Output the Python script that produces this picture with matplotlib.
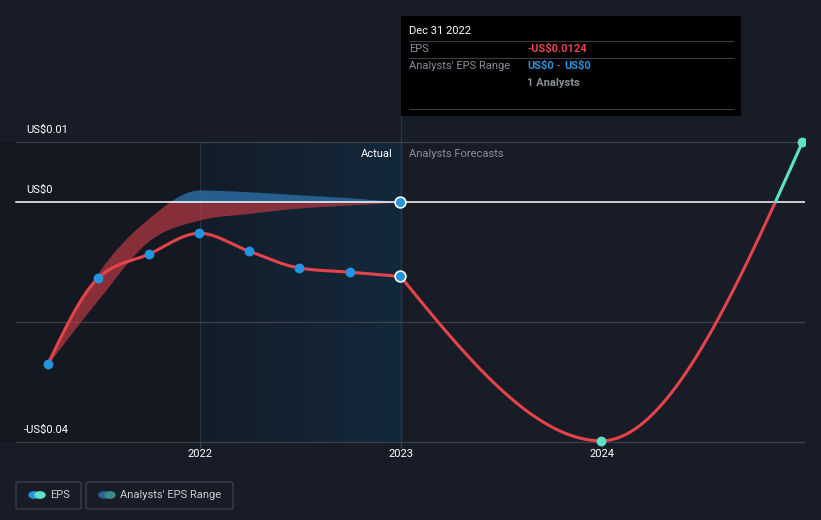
import numpy as np
import pandas as pd
import matplotlib
matplotlib.use("Agg")
import matplotlib.pyplot as plt
from matplotlib.patches import Rectangle, FancyBboxPatch
from matplotlib.colors import LinearSegmentedColormap

plt.rcParams['font.family'] = ['Roboto', 'DejaVu Sans']

# --- data ---
actual_dates = ['2021-03-31', '2021-06-30', '2021-09-30', '2021-12-31',
                '2022-03-31', '2022-06-30', '2022-09-30', '2022-12-31']
actual_eps = [-0.0270, -0.0127, -0.0087, -0.0052, -0.0082, -0.0110, -0.0117, -0.0124]

forecast_dates = ['2022-12-31', '2023-12-31', '2024-12-31']
forecast_eps = [-0.0124, -0.0398, 0.0100]

range_dates = actual_dates
range_high = [-0.0270, -0.0118, -0.0027, 0.0020, 0.0017, 0.0012, 0.0007, 0.0]
range_low = [-0.0270, -0.0163, -0.0065, -0.0030, -0.0019, -0.0010, -0.0005, 0.0]

y_ticks = [0.01, 0.0, -0.04]
y_tick_labels = ['US$0.01', 'US$0', '-US$0.04']
x_ticks = [2022, 2023, 2024]

BG = '#171c26'
RED = '#e5434a'
BLUE = '#2394df'
TEAL = '#5de2c6'
GRID = '#3b4049'
W, H = 821, 520


def dec_year(s):
    t = pd.Timestamp(s)
    start = pd.Timestamp(year=t.year, month=1, day=1)
    end = pd.Timestamp(year=t.year + 1, month=1, day=1)
    return t.year + (t - start) / (end - start)


def monotone(x, y, n=60):
    # monotone cubic (like d3 curveMonotoneX)
    x = np.asarray(x, float)
    y = np.asarray(y, float)
    h = np.diff(x)
    d = np.diff(y) / h
    m = np.zeros_like(y)
    for i in range(1, len(y) - 1):
        s0, s1 = d[i - 1], d[i]
        p = (s0 * h[i] + s1 * h[i - 1]) / (h[i - 1] + h[i])
        m[i] = (np.sign(s0) + np.sign(s1)) * min(abs(s0), abs(s1), 0.5 * abs(p))
    m[0] = (3 * d[0] - m[1]) / 2 if len(y) > 2 else d[0]
    m[-1] = (3 * d[-1] - m[-2]) / 2 if len(y) > 2 else d[-1]
    xs, ys = [], []
    for i in range(len(h)):
        t = np.linspace(0, 1, n, endpoint=(i == len(h) - 1))
        h00 = 2 * t**3 - 3 * t**2 + 1
        h10 = t**3 - 2 * t**2 + t
        h01 = -2 * t**3 + 3 * t**2
        h11 = t**3 - t**2
        xs.append(x[i] + t * h[i])
        ys.append(h00 * y[i] + h10 * h[i] * m[i] + h01 * y[i + 1] + h11 * h[i] * m[i + 1])
    return np.concatenate(xs), np.concatenate(ys)


ax_x = [dec_year(s) for s in actual_dates]
fx = [dec_year(s) for s in forecast_dates]
rx = [dec_year(s) for s in range_dates]


def px(x, y):
    return x / W, 1 - y / H


def xd(xp):
    return 2022 + (xp - 200) / 201


def yd(yp):
    return (202 - yp) / 6000


fig = plt.figure(figsize=(W / 100, H / 100), dpi=100, facecolor=BG)
# axes stop at the right end of the gridlines so the last point is clipped there
ax = fig.add_axes([0, 0, 805 / W, 1])
ax.set_facecolor(BG)
XL = (xd(0), xd(805))
YL = (yd(H), yd(0))
ax.axis('off')

# left darker region and shaded past-year region (between the 0.01 and -0.04 lines)
ax.fill_between([xd(0), 2022], 0.01, -0.04, color='#131821', zorder=0, lw=0)
grad = LinearSegmentedColormap.from_list('g', ['#141d29', '#13283c'])
ax.imshow(np.linspace(0, 1, 100)[None, :], cmap=grad, aspect='auto',
          extent=[2022, 2023, -0.04, 0.01], zorder=0.5)
ax.set_xlim(*XL)
ax.set_ylim(*YL)
ax.plot([2022, 2022], [-0.04, 0.01], color='#1e3448', lw=0.8, zorder=1)
ax.plot([2023, 2023], [-0.04, yd(116)], color='#23384c', lw=1.0, zorder=1)

# gridlines
for v in [0.01, -0.02, -0.04]:
    ax.plot([xd(16), xd(805)], [v, v], color=GRID, lw=0.9, zorder=1)
ax.plot([xd(16), xd(805)], [0, 0], color='white', lw=1.1, zorder=3)
for xt in x_ticks:
    ax.plot([xt, xt], [-0.04, -0.04 - 5 / 6000], color=GRID, lw=0.9, zorder=1)
    ax.text(xt, -0.04 - 12 / 6000, str(xt), color='white', fontsize=8,
            ha='center', va='center', zorder=5)
for v, lab in zip(y_ticks, y_tick_labels):
    xo = 24 if lab.startswith('-') else 26
    ax.text(xd(xo), v + 12 / 6000, lab, color='white', fontsize=8,
            ha='left', va='center', zorder=5)

# analysts' range band
bx, bhi = monotone(rx, range_high)
_, blo = monotone(rx, range_low)
ax.fill_between(bx, np.minimum(blo, 0), np.minimum(bhi, 0), color='#b83a44',
                alpha=0.7, lw=0, zorder=2)
ax.fill_between(bx, np.maximum(blo, 0), np.maximum(bhi, 0), color='#2b6fa6',
                alpha=0.8, lw=0, zorder=2)

# EPS line
lx, ly = monotone(ax_x, actual_eps)
ax.plot(lx, ly, color=RED, lw=2.2, zorder=4, solid_capstyle='round')
gx, gy = monotone(fx, forecast_eps, n=300)
ax.plot(gx, np.where(gy <= 0, gy, np.nan), color=RED, lw=2.2, zorder=4)
ax.plot(gx, np.where(gy >= 0, gy, np.nan), color=TEAL, lw=2.2, zorder=4)

ax.scatter(ax_x[:-1], actual_eps[:-1], s=50, color=BLUE, zorder=6, lw=0)
ax.scatter([ax_x[-1]], [actual_eps[-1]], s=60, color=BLUE, edgecolor='white', lw=1.2, zorder=6)
ax.scatter([rx[-1]], [range_high[-1]], s=60, color=BLUE, edgecolor='white', lw=1.2, zorder=6)
ax.scatter(fx[1:], forecast_eps[1:], s=50, color=TEAL, zorder=6, lw=0)

ax.text(xd(393), 0.01 - 12 / 6000, 'Actual', color='white', fontsize=8,
        ha='right', va='center', zorder=5)
ax.text(xd(409), 0.01 - 12 / 6000, 'Analysts Forecasts', color='#8a8f98', fontsize=8,
        ha='left', va='center', zorder=5)

# tooltip
fig.patches.append(Rectangle(px(401, 116), 340 / W, 100 / H, transform=fig.transFigure,
                             facecolor='black', edgecolor='none', zorder=10))
for yl in [41, 58, 109]:
    fig.lines.append(plt.Line2D([409 / W, 733 / W], [1 - yl / H] * 2, transform=fig.transFigure,
                                color='#3a3d42', lw=0.8, zorder=11))
fig.text(*px(409, 31), 'Dec 31 2022', color='white', fontsize=8, va='center', zorder=12)
fig.text(*px(409, 49), 'EPS', color='#8a8f98', fontsize=8, va='center', zorder=12)
fig.text(*px(527, 49), '-US$0.0124', color=RED, fontsize=8, va='center', zorder=12,
         fontweight='bold')
fig.text(*px(409, 66), "Analysts' EPS Range", color='#8a8f98', fontsize=8, va='center', zorder=12)
fig.text(*px(527, 66), 'US$0', color=BLUE, fontsize=8, va='center', zorder=12, fontweight='bold')
fig.text(*px(557, 66), '-', color='#8a8f98', fontsize=8, va='center', zorder=12)
fig.text(*px(564, 66), 'US$0', color=BLUE, fontsize=8, va='center', zorder=12, fontweight='bold')
fig.text(*px(527, 83), '1 Analysts', color='#8a8f98', fontsize=8, va='center', zorder=12,
         fontweight='bold')

# legend
for x0, w, lab, c1, c2 in [(16, 65, 'EPS', BLUE, TEAL),
                           (86, 147, "Analysts' EPS Range", '#25649a', '#3d8a86')]:
    fig.patches.append(FancyBboxPatch(px(x0, 509), w / W, 27 / H, boxstyle='round,pad=0,rounding_size=0.003',
                                      transform=fig.transFigure, facecolor='none',
                                      edgecolor='#3d424b', lw=0.9))
    fig.patches.append(plt.Circle(px(x0 + 18, 495), 5 / W, transform=fig.transFigure, color=c1))
    fig.patches.append(plt.Circle(px(x0 + 24, 495), 5 / W, transform=fig.transFigure, color=c2))
    fig.text(*px(x0 + 34, 495), lab, color='#c9ccd1', fontsize=8, va='center')

fig.savefig('out.png', dpi=100, facecolor=BG)
